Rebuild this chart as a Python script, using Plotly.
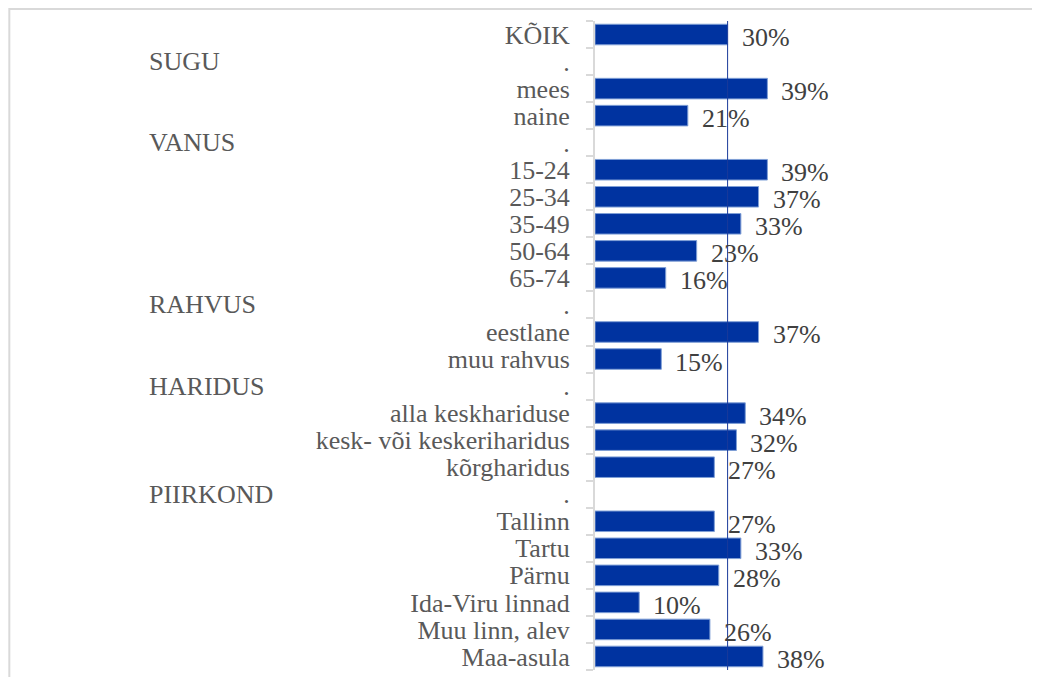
import plotly.graph_objects as go

# ---- data ----
categories = ["KÕIK", ".", "mees", "naine", ".", "15-24", "25-34", "35-49", "50-64", "65-74",
              ".", "eestlane", "muu rahvus", ".", "alla keskhariduse", "kesk- või keskeriharidus",
              "kõrgharidus", ".", "Tallinn", "Tartu", "Pärnu", "Ida-Viru linnad",
              "Muu linn, alev", "Maa-asula"]
values = [30, None, 39, 21, None, 39, 37, 33, 23, 16,
          None, 37, 15, None, 34, 32, 27, None, 27, 33, 28, 10, 26, 38]
group_labels = ["SUGU", "VANUS", "RAHVUS", "HARIDUS", "PIIRKOND"]
group_rows = [1, 4, 10, 13, 17]
reference_value = values[0]

# ---- layout geometry (page pixels; page body has an 8px margin) ----
OFF = 8
W, H = 1040 - OFF, 677 - OFF
ML = 595 - OFF
MT = 21 - OFF
MB = H - (672 - OFF)
PW = 221.5
MR = W - ML - PW
XMAX = 50

def px_x(px):
    return (px - OFF - ML) / PW

def px_y(py):
    ph = H - MT - MB
    return 1 - (py - OFF - MT) / ph

FONT = "Liberation Serif"
rows = list(range(len(categories)))

bx = [v for v in values if v is not None]
by = [r for r, v in zip(rows, values) if v is not None]

fig = go.Figure()
fig.add_trace(go.Bar(
    x=bx, y=by, orientation="h",
    marker=dict(color="#0033a0", line=dict(color="#7f9fd6", width=1)),
    width=0.76, hoverinfo="skip",
))

annotations = []
for r, v in zip(by, bx):
    annotations.append(dict(
        x=v, y=r, xref="x", yref="y", text=f"{v}%", showarrow=False,
        xanchor="left", yanchor="middle", xshift=12, yshift=-3,
        font=dict(family=FONT, size=26, color="#404040"),
    ))
for g, r in zip(group_labels, group_rows):
    annotations.append(dict(
        x=px_x(146), y=r, xref="paper", yref="y", text=g, showarrow=False,
        xanchor="left", yanchor="middle",
        font=dict(family=FONT, size=26, color="#595959"),
    ))

shapes = [
    dict(type="line", xref="x", yref="paper", x0=reference_value, x1=reference_value,
         y0=0, y1=1, line=dict(color="#1a3a9a", width=1)),
    dict(type="rect", xref="paper", yref="paper",
         x0=px_x(8), x1=px_x(1040 + 40), y0=px_y(9), y1=px_y(677 + 40),
         line=dict(color="#d9d9d9", width=2), fillcolor="rgba(0,0,0,0)", layer="below"),
]

fig.update_layout(
    width=W, height=H,
    margin=dict(l=ML, r=MR, t=MT, b=MB, pad=0),
    paper_bgcolor="white", plot_bgcolor="white",
    showlegend=False,
    annotations=annotations,
    shapes=shapes,
    xaxis=dict(range=[0, XMAX], visible=False, fixedrange=True),
    yaxis=dict(
        range=[len(categories) - 0.5, -0.5],
        tickmode="array", tickvals=rows, ticktext=categories,
        ticks="", showgrid=False, zeroline=False,
        showline=True, linecolor="#d9d9d9", linewidth=2,
        tickfont=dict(family=FONT, size=26, color="#595959"),
        ticklabelstandoff=18,
        minor=dict(tickmode="array", tickvals=[r - 0.5 for r in rows] + [len(rows) - 0.5],
                   ticks="outside", ticklen=7, tickcolor="#d9d9d9", tickwidth=2,
                   showgrid=False),
        fixedrange=True,
    ),
)

fig.write_html("out.html")
